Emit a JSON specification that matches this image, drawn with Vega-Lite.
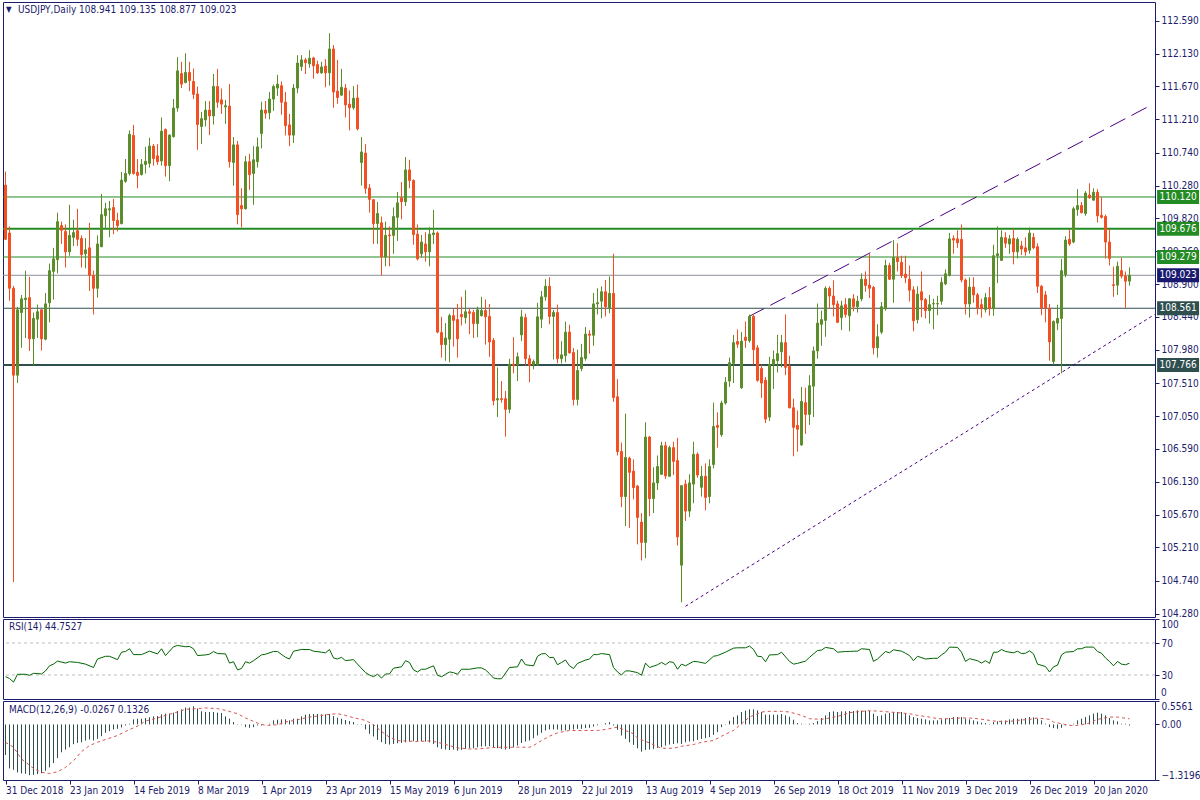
{
"$schema": "https://vega.github.io/schema/vega-lite/v6.json",
"background": "white",
"padding": {"left": 1, "top": 1, "right": 0, "bottom": 0},
"spacing": 2,
"bounds": "flush",
"config": {
 "view": {"stroke": "#1c1c6c", "strokeWidth": 1},
 "font": "DejaVu Sans Condensed, DejaVu Sans",
 "scale": {"continuousPadding": 0},
 "axis": {"labelFont": "DejaVu Sans Condensed, DejaVu Sans", "labelFontSize": 10, "labelColor": "#1c1c6c", "domainColor": "#1c1c6c", "tickColor": "#1c1c6c", "grid": false, "domain": false, "labelOverlap": false, "labelBound": false}
},
"datasets": {
 "bars": [
{"i":0,"o":110.285,"h":110.477,"l":109.516,"c":109.527,"m":-0.726},
{"i":1,"o":109.615,"h":109.708,"l":108.666,"c":108.841,"m":-1.045},
{"i":2,"o":108.841,"h":108.874,"l":104.725,"c":107.623,"m":-1.077},
{"i":3,"o":107.623,"h":108.583,"l":107.513,"c":108.539,"m":-1.14},
{"i":4,"o":108.501,"h":108.748,"l":108.007,"c":108.693,"m":-1.164},
{"i":5,"o":108.682,"h":109.088,"l":108.144,"c":108.704,"m":-1.172},
{"i":6,"o":108.71,"h":109.0,"l":107.963,"c":108.133,"m":-1.204},
{"i":7,"o":108.133,"h":108.501,"l":107.76,"c":108.419,"m":-1.196},
{"i":8,"o":108.408,"h":108.611,"l":108.144,"c":108.512,"m":-1.18},
{"i":9,"o":108.539,"h":108.55,"l":107.969,"c":108.133,"m":-1.156},
{"i":10,"o":108.128,"h":108.775,"l":108.111,"c":108.622,"m":-1.1},
{"i":11,"o":108.638,"h":109.187,"l":108.364,"c":109.088,"m":-1.021},
{"i":12,"o":109.077,"h":109.407,"l":108.682,"c":109.253,"m":-0.917},
{"i":13,"o":109.242,"h":109.9,"l":109.05,"c":109.774,"m":-0.797},
{"i":14,"o":109.719,"h":109.774,"l":109.462,"c":109.654,"m":-0.662},
{"i":15,"o":109.637,"h":109.736,"l":109.132,"c":109.352,"m":-0.598},
{"i":16,"o":109.352,"h":110.01,"l":109.297,"c":109.582,"m":-0.542},
{"i":17,"o":109.555,"h":109.802,"l":109.434,"c":109.621,"m":-0.47},
{"i":18,"o":109.648,"h":109.955,"l":109.434,"c":109.527,"m":-0.439},
{"i":19,"o":109.538,"h":109.582,"l":109.132,"c":109.313,"m":-0.423},
{"i":20,"o":109.324,"h":109.544,"l":109.121,"c":109.379,"m":-0.383},
{"i":21,"o":109.407,"h":109.758,"l":108.803,"c":109.022,"m":-0.359},
{"i":22,"o":109.022,"h":109.088,"l":108.474,"c":108.841,"m":-0.383},
{"i":23,"o":108.841,"h":109.582,"l":108.71,"c":109.462,"m":-0.343},
{"i":24,"o":109.423,"h":110.164,"l":109.418,"c":109.873,"m":-0.279},
{"i":25,"o":109.857,"h":110.038,"l":109.681,"c":109.955,"m":-0.199},
{"i":26,"o":109.939,"h":110.065,"l":109.555,"c":109.955,"m":-0.159},
{"i":27,"o":109.972,"h":110.093,"l":109.599,"c":109.791,"m":-0.12},
{"i":28,"o":109.791,"h":109.9,"l":109.637,"c":109.719,"m":-0.104},
{"i":29,"o":109.747,"h":110.471,"l":109.736,"c":110.356,"m":-0.072},
{"i":30,"o":110.34,"h":110.652,"l":110.318,"c":110.449,"m":-0.024},
{"i":31,"o":110.449,"h":111.053,"l":110.422,"c":110.998,"m":0.016},
{"i":32,"o":110.982,"h":111.13,"l":110.433,"c":110.449,"m":0.12},
{"i":33,"o":110.466,"h":110.652,"l":110.241,"c":110.422,"m":0.136},
{"i":34,"o":110.433,"h":110.652,"l":110.422,"c":110.576,"m":0.136},
{"i":35,"o":110.576,"h":110.822,"l":110.449,"c":110.619,"m":0.152},
{"i":36,"o":110.592,"h":110.949,"l":110.532,"c":110.833,"m":0.167},
{"i":37,"o":110.833,"h":110.861,"l":110.559,"c":110.658,"m":0.191},
{"i":38,"o":110.696,"h":110.861,"l":110.57,"c":110.614,"m":0.199},
{"i":39,"o":110.625,"h":111.234,"l":110.559,"c":111.042,"m":0.239},
{"i":40,"o":111.064,"h":111.08,"l":110.405,"c":110.559,"m":0.255},
{"i":41,"o":110.559,"h":110.998,"l":110.34,"c":110.987,"m":0.255},
{"i":42,"o":110.965,"h":111.492,"l":110.954,"c":111.366,"m":0.279},
{"i":43,"o":111.366,"h":112.079,"l":111.316,"c":111.887,"m":0.319},
{"i":44,"o":111.849,"h":112.013,"l":111.646,"c":111.701,"m":0.359},
{"i":45,"o":111.723,"h":112.134,"l":111.712,"c":111.865,"m":0.399},
{"i":46,"o":111.865,"h":112.013,"l":111.602,"c":111.75,"m":0.399},
{"i":47,"o":111.739,"h":111.92,"l":111.492,"c":111.558,"m":0.431},
{"i":48,"o":111.563,"h":111.668,"l":110.779,"c":111.135,"m":0.375},
{"i":49,"o":111.108,"h":111.311,"l":110.861,"c":111.218,"m":0.311},
{"i":50,"o":111.201,"h":111.465,"l":111.108,"c":111.338,"m":0.295},
{"i":51,"o":111.338,"h":111.465,"l":110.987,"c":111.256,"m":0.295},
{"i":52,"o":111.256,"h":111.843,"l":111.135,"c":111.668,"m":0.295},
{"i":53,"o":111.668,"h":111.915,"l":111.371,"c":111.448,"m":0.279},
{"i":54,"o":111.481,"h":111.64,"l":111.283,"c":111.421,"m":0.271},
{"i":55,"o":111.382,"h":111.481,"l":111.146,"c":111.399,"m":0.191},
{"i":56,"o":111.393,"h":111.701,"l":110.532,"c":110.614,"m":0.136},
{"i":57,"o":110.603,"h":110.96,"l":110.279,"c":110.85,"m":0.056},
{"i":58,"o":110.85,"h":110.905,"l":109.736,"c":109.873,"m":0.008},
{"i":59,"o":110.0,"h":110.241,"l":109.692,"c":109.955,"m":-0.008},
{"i":60,"o":109.955,"h":110.696,"l":109.944,"c":110.614,"m":-0.064},
{"i":61,"o":110.614,"h":110.724,"l":110.219,"c":110.433,"m":-0.08},
{"i":62,"o":110.449,"h":110.833,"l":110.01,"c":110.641,"m":-0.064},
{"i":63,"o":110.614,"h":110.954,"l":110.532,"c":110.822,"m":-0.024},
{"i":64,"o":111.009,"h":111.454,"l":110.801,"c":111.338,"m":-0.024},
{"i":65,"o":111.338,"h":111.465,"l":111.218,"c":111.294,"m":0.004},
{"i":66,"o":111.3,"h":111.591,"l":111.207,"c":111.492,"m":0.016},
{"i":67,"o":111.492,"h":111.695,"l":111.327,"c":111.668,"m":0.096},
{"i":68,"o":111.646,"h":111.832,"l":111.536,"c":111.701,"m":0.112},
{"i":69,"o":111.679,"h":111.739,"l":111.272,"c":111.448,"m":0.12},
{"i":70,"o":111.448,"h":111.591,"l":110.982,"c":111.119,"m":0.12},
{"i":71,"o":111.13,"h":111.283,"l":110.833,"c":110.987,"m":0.096},
{"i":72,"o":110.987,"h":111.701,"l":110.877,"c":111.646,"m":0.136},
{"i":73,"o":111.646,"h":112.107,"l":111.574,"c":111.997,"m":0.136},
{"i":74,"o":111.948,"h":112.107,"l":111.887,"c":112.041,"m":0.191},
{"i":75,"o":112.041,"h":112.068,"l":111.843,"c":112.002,"m":0.231},
{"i":76,"o":111.986,"h":112.178,"l":111.931,"c":112.063,"m":0.247},
{"i":77,"o":112.068,"h":112.085,"l":111.777,"c":111.958,"m":0.247},
{"i":78,"o":111.975,"h":112.03,"l":111.843,"c":111.86,"m":0.247},
{"i":79,"o":111.86,"h":112.013,"l":111.843,"c":111.942,"m":0.239},
{"i":80,"o":111.953,"h":112.052,"l":111.657,"c":111.86,"m":0.239},
{"i":81,"o":111.86,"h":112.414,"l":111.679,"c":112.194,"m":0.247},
{"i":82,"o":112.194,"h":112.249,"l":111.371,"c":111.591,"m":0.199},
{"i":83,"o":111.602,"h":112.041,"l":111.426,"c":111.514,"m":0.159},
{"i":84,"o":111.547,"h":111.915,"l":111.536,"c":111.657,"m":0.136},
{"i":85,"o":111.646,"h":111.701,"l":111.234,"c":111.41,"m":0.104},
{"i":86,"o":111.421,"h":111.613,"l":111.053,"c":111.371,"m":0.08},
{"i":87,"o":111.371,"h":111.673,"l":111.344,"c":111.503,"m":0.056},
{"i":88,"o":111.508,"h":111.695,"l":111.053,"c":111.075,"m":0.008},
{"i":89,"o":110.603,"h":110.96,"l":110.279,"c":110.751,"m":-0.01},
{"i":90,"o":110.735,"h":110.861,"l":110.164,"c":110.241,"m":-0.12},
{"i":91,"o":110.246,"h":110.301,"l":109.9,"c":110.087,"m":-0.223},
{"i":92,"o":110.082,"h":110.093,"l":109.462,"c":109.747,"m":-0.287},
{"i":93,"o":109.747,"h":110.049,"l":109.462,"c":109.889,"m":-0.367},
{"i":94,"o":109.758,"h":109.846,"l":109.022,"c":109.28,"m":-0.423},
{"i":95,"o":109.28,"h":109.774,"l":109.149,"c":109.582,"m":-0.463},
{"i":96,"o":109.588,"h":109.708,"l":109.149,"c":109.577,"m":-0.478},
{"i":97,"o":109.582,"h":109.972,"l":109.324,"c":109.846,"m":-0.463},
{"i":98,"o":109.835,"h":110.191,"l":109.505,"c":110.038,"m":-0.447},
{"i":99,"o":110.109,"h":110.329,"l":109.807,"c":110.054,"m":-0.439},
{"i":100,"o":110.054,"h":110.68,"l":109.994,"c":110.499,"m":-0.423},
{"i":101,"o":110.499,"h":110.641,"l":110.241,"c":110.351,"m":-0.407},
{"i":102,"o":110.351,"h":110.367,"l":109.451,"c":109.593,"m":-0.399},
{"i":103,"o":109.599,"h":109.736,"l":109.231,"c":109.253,"m":-0.399},
{"i":104,"o":109.324,"h":109.588,"l":109.269,"c":109.489,"m":-0.399},
{"i":105,"o":109.462,"h":109.626,"l":109.214,"c":109.352,"m":-0.407},
{"i":106,"o":109.352,"h":109.697,"l":109.149,"c":109.599,"m":-0.423},
{"i":107,"o":109.593,"h":109.939,"l":109.462,"c":109.615,"m":-0.463},
{"i":108,"o":109.615,"h":109.637,"l":108.21,"c":108.227,"m":-0.542},
{"i":109,"o":108.221,"h":108.441,"l":107.87,"c":108.051,"m":-0.582},
{"i":110,"o":108.051,"h":108.353,"l":107.826,"c":108.144,"m":-0.598},
{"i":111,"o":108.128,"h":108.485,"l":107.804,"c":108.457,"m":-0.606},
{"i":112,"o":108.457,"h":108.556,"l":108.024,"c":108.391,"m":-0.598},
{"i":113,"o":108.402,"h":108.622,"l":107.87,"c":108.133,"m":-0.622},
{"i":114,"o":108.474,"h":108.721,"l":108.32,"c":108.441,"m":-0.606},
{"i":115,"o":108.43,"h":108.814,"l":108.347,"c":108.512,"m":-0.582},
{"i":116,"o":108.512,"h":108.556,"l":108.199,"c":108.49,"m":-0.566},
{"i":117,"o":108.501,"h":108.539,"l":108.144,"c":108.347,"m":-0.566},
{"i":118,"o":108.347,"h":108.583,"l":108.155,"c":108.539,"m":-0.542},
{"i":119,"o":108.457,"h":108.721,"l":108.446,"c":108.528,"m":-0.526},
{"i":120,"o":108.528,"h":108.682,"l":108.051,"c":108.441,"m":-0.518},
{"i":121,"o":108.446,"h":108.622,"l":107.881,"c":108.089,"m":-0.518},
{"i":122,"o":108.111,"h":108.144,"l":107.2,"c":107.266,"m":-0.542},
{"i":123,"o":107.277,"h":107.733,"l":107.036,"c":107.294,"m":-0.566},
{"i":124,"o":107.294,"h":107.541,"l":107.239,"c":107.283,"m":-0.582},
{"i":125,"o":107.294,"h":107.403,"l":106.761,"c":107.145,"m":-0.598},
{"i":126,"o":107.145,"h":107.854,"l":107.091,"c":107.777,"m":-0.582},
{"i":127,"o":107.777,"h":108.155,"l":107.65,"c":107.76,"m":-0.542},
{"i":128,"o":107.771,"h":107.941,"l":107.541,"c":107.881,"m":-0.502},
{"i":129,"o":108.188,"h":108.539,"l":108.1,"c":108.441,"m":-0.439},
{"i":130,"o":108.43,"h":108.485,"l":107.76,"c":107.854,"m":-0.407},
{"i":131,"o":107.854,"h":107.908,"l":107.524,"c":107.76,"m":-0.383},
{"i":132,"o":107.771,"h":107.843,"l":107.705,"c":107.815,"m":-0.327},
{"i":133,"o":107.771,"h":108.638,"l":107.76,"c":108.441,"m":-0.263},
{"i":134,"o":108.408,"h":108.803,"l":108.282,"c":108.721,"m":-0.199},
{"i":135,"o":108.721,"h":108.968,"l":108.666,"c":108.869,"m":-0.144},
{"i":136,"o":108.869,"h":108.995,"l":108.336,"c":108.446,"m":-0.12},
{"i":137,"o":108.446,"h":108.539,"l":107.843,"c":108.501,"m":-0.12},
{"i":138,"o":108.501,"h":108.611,"l":107.788,"c":107.854,"m":-0.12},
{"i":139,"o":107.854,"h":108.1,"l":107.788,"c":107.908,"m":-0.144},
{"i":140,"o":107.897,"h":108.375,"l":107.804,"c":108.227,"m":-0.144},
{"i":141,"o":108.227,"h":108.331,"l":107.925,"c":107.936,"m":-0.128},
{"i":142,"o":107.941,"h":108.002,"l":107.2,"c":107.283,"m":-0.12},
{"i":143,"o":107.283,"h":107.98,"l":107.2,"c":107.689,"m":-0.104},
{"i":144,"o":107.716,"h":108.062,"l":107.678,"c":107.87,"m":-0.104},
{"i":145,"o":107.859,"h":108.298,"l":107.826,"c":108.199,"m":-0.088},
{"i":146,"o":108.199,"h":108.254,"l":107.925,"c":108.183,"m":-0.08},
{"i":147,"o":108.183,"h":108.775,"l":108.035,"c":108.622,"m":-0.05},
{"i":148,"o":108.622,"h":108.841,"l":108.474,"c":108.638,"m":-0.02},
{"i":149,"o":108.66,"h":108.869,"l":108.419,"c":108.792,"m":0.004},
{"i":150,"o":108.792,"h":108.957,"l":108.446,"c":108.583,"m":0.03},
{"i":151,"o":108.567,"h":109.006,"l":108.49,"c":108.77,"m":0.056},
{"i":152,"o":108.77,"h":109.324,"l":107.25,"c":107.31,"m":-0.024},
{"i":153,"o":107.321,"h":107.568,"l":106.498,"c":106.553,"m":-0.128},
{"i":154,"o":106.553,"h":106.679,"l":105.773,"c":105.922,"m":-0.263},
{"i":155,"o":105.922,"h":107.085,"l":105.51,"c":106.471,"m":-0.343},
{"i":156,"o":106.46,"h":106.482,"l":105.483,"c":106.262,"m":-0.423},
{"i":157,"o":106.278,"h":106.443,"l":105.883,"c":106.048,"m":-0.486},
{"i":158,"o":106.07,"h":106.086,"l":105.252,"c":105.631,"m":-0.566},
{"i":159,"o":105.565,"h":105.691,"l":105.027,"c":105.28,"m":-0.646},
{"i":160,"o":105.28,"h":106.964,"l":105.06,"c":106.756,"m":-0.606},
{"i":161,"o":106.756,"h":106.772,"l":105.647,"c":105.894,"m":-0.598},
{"i":162,"o":105.894,"h":106.333,"l":105.691,"c":106.114,"m":-0.582},
{"i":163,"o":106.114,"h":106.498,"l":106.015,"c":106.344,"m":-0.558},
{"i":164,"o":106.235,"h":106.69,"l":106.224,"c":106.635,"m":-0.542},
{"i":165,"o":106.635,"h":106.69,"l":106.169,"c":106.213,"m":-0.502},
{"i":166,"o":106.207,"h":106.635,"l":106.196,"c":106.608,"m":-0.478},
{"i":167,"o":106.608,"h":106.69,"l":106.224,"c":106.416,"m":-0.463},
{"i":168,"o":106.427,"h":106.745,"l":105.236,"c":105.357,"m":-0.447},
{"i":169,"o":104.961,"h":106.075,"l":104.44,"c":106.075,"m":-0.463},
{"i":170,"o":106.097,"h":106.158,"l":105.581,"c":105.719,"m":-0.423},
{"i":171,"o":105.719,"h":106.235,"l":105.636,"c":106.114,"m":-0.407},
{"i":172,"o":106.097,"h":106.69,"l":105.828,"c":106.514,"m":-0.399},
{"i":173,"o":106.514,"h":106.542,"l":106.185,"c":106.224,"m":-0.367},
{"i":174,"o":106.053,"h":106.35,"l":105.922,"c":106.207,"m":-0.343},
{"i":175,"o":106.207,"h":106.388,"l":105.73,"c":105.911,"m":-0.327},
{"i":176,"o":105.922,"h":106.443,"l":105.828,"c":106.344,"m":-0.303},
{"i":177,"o":106.372,"h":107.239,"l":106.317,"c":106.904,"m":-0.247},
{"i":178,"o":106.92,"h":107.102,"l":106.608,"c":106.893,"m":-0.183},
{"i":179,"o":106.789,"h":107.266,"l":106.761,"c":107.233,"m":-0.064},
{"i":180,"o":107.233,"h":107.596,"l":107.211,"c":107.524,"m":-0.008},
{"i":181,"o":107.541,"h":107.87,"l":107.458,"c":107.798,"m":0.088},
{"i":182,"o":107.788,"h":108.188,"l":107.513,"c":108.079,"m":0.175},
{"i":183,"o":108.095,"h":108.265,"l":108.007,"c":108.057,"m":0.215},
{"i":184,"o":107.447,"h":108.227,"l":107.431,"c":108.1,"m":0.295},
{"i":185,"o":108.155,"h":108.375,"l":108.007,"c":108.111,"m":0.327},
{"i":186,"o":108.106,"h":108.474,"l":108.079,"c":108.446,"m":0.359},
{"i":187,"o":108.446,"h":108.474,"l":107.771,"c":107.98,"m":0.359},
{"i":188,"o":108.007,"h":108.046,"l":107.53,"c":107.552,"m":0.335},
{"i":189,"o":107.716,"h":107.771,"l":107.305,"c":107.513,"m":0.295},
{"i":190,"o":107.552,"h":107.596,"l":106.953,"c":107.008,"m":0.231},
{"i":191,"o":107.036,"h":107.881,"l":106.981,"c":107.771,"m":0.231},
{"i":192,"o":107.771,"h":107.969,"l":107.431,"c":107.843,"m":0.231},
{"i":193,"o":107.826,"h":108.188,"l":107.661,"c":107.925,"m":0.231},
{"i":194,"o":107.952,"h":108.188,"l":107.733,"c":108.079,"m":0.247},
{"i":195,"o":108.079,"h":108.474,"l":107.623,"c":107.733,"m":0.215},
{"i":196,"o":107.744,"h":107.897,"l":107.157,"c":107.167,"m":0.183},
{"i":197,"o":107.167,"h":107.294,"l":106.487,"c":106.893,"m":0.112},
{"i":198,"o":106.92,"h":107.129,"l":106.553,"c":106.866,"m":0.032},
{"i":199,"o":106.646,"h":107.458,"l":106.635,"c":107.255,"m":0.016},
{"i":200,"o":107.239,"h":107.447,"l":106.8,"c":107.074,"m":0.005},
{"i":201,"o":107.074,"h":107.623,"l":106.926,"c":107.475,"m":0.016},
{"i":202,"o":107.469,"h":108.024,"l":107.036,"c":107.963,"m":0.032},
{"i":203,"o":107.963,"h":108.627,"l":107.854,"c":108.353,"m":0.08},
{"i":204,"o":108.336,"h":108.528,"l":108.035,"c":108.402,"m":0.152},
{"i":205,"o":108.391,"h":108.869,"l":108.161,"c":108.841,"m":0.215},
{"i":206,"o":108.841,"h":108.869,"l":108.567,"c":108.732,"m":0.295},
{"i":207,"o":108.732,"h":108.951,"l":108.446,"c":108.611,"m":0.311},
{"i":208,"o":108.622,"h":108.666,"l":108.353,"c":108.364,"m":0.295},
{"i":209,"o":108.43,"h":108.666,"l":108.254,"c":108.594,"m":0.311},
{"i":210,"o":108.611,"h":108.704,"l":108.43,"c":108.474,"m":0.311},
{"i":211,"o":108.457,"h":108.704,"l":108.238,"c":108.693,"m":0.319},
{"i":212,"o":108.693,"h":108.759,"l":108.517,"c":108.583,"m":0.319},
{"i":213,"o":108.583,"h":108.737,"l":108.501,"c":108.66,"m":0.335},
{"i":214,"o":108.693,"h":109.05,"l":108.66,"c":108.968,"m":0.327},
{"i":215,"o":108.968,"h":109.077,"l":108.792,"c":108.88,"m":0.327},
{"i":216,"o":108.885,"h":109.324,"l":108.704,"c":108.841,"m":0.319},
{"i":217,"o":108.852,"h":108.874,"l":107.914,"c":108.007,"m":0.255},
{"i":218,"o":108.007,"h":108.336,"l":107.87,"c":108.161,"m":0.199},
{"i":219,"o":108.227,"h":108.649,"l":108.199,"c":108.583,"m":0.215},
{"i":220,"o":108.556,"h":109.242,"l":108.528,"c":109.16,"m":0.255},
{"i":221,"o":109.16,"h":109.198,"l":108.957,"c":108.968,"m":0.275},
{"i":222,"o":108.968,"h":109.516,"l":108.638,"c":109.269,"m":0.295},
{"i":223,"o":109.269,"h":109.472,"l":109.077,"c":109.214,"m":0.295},
{"i":224,"o":109.204,"h":109.297,"l":108.984,"c":109.022,"m":0.295},
{"i":225,"o":109.039,"h":109.297,"l":108.913,"c":108.989,"m":0.255},
{"i":226,"o":108.968,"h":109.16,"l":108.655,"c":108.814,"m":0.215},
{"i":227,"o":108.819,"h":108.869,"l":108.238,"c":108.386,"m":0.175},
{"i":228,"o":108.402,"h":108.869,"l":108.347,"c":108.759,"m":0.152},
{"i":229,"o":108.792,"h":109.077,"l":108.435,"c":108.677,"m":0.136},
{"i":230,"o":108.682,"h":108.704,"l":108.419,"c":108.528,"m":0.12},
{"i":231,"o":108.528,"h":108.748,"l":108.347,"c":108.611,"m":0.096},
{"i":232,"o":108.622,"h":108.693,"l":108.265,"c":108.627,"m":0.096},
{"i":233,"o":108.622,"h":108.737,"l":108.463,"c":108.627,"m":0.096},
{"i":234,"o":108.66,"h":108.995,"l":108.611,"c":108.924,"m":0.12},
{"i":235,"o":108.902,"h":109.105,"l":108.885,"c":109.044,"m":0.136},
{"i":236,"o":109.022,"h":109.615,"l":109.006,"c":109.533,"m":0.152},
{"i":237,"o":109.538,"h":109.582,"l":109.324,"c":109.516,"m":0.175},
{"i":238,"o":109.533,"h":109.654,"l":109.407,"c":109.478,"m":0.175},
{"i":239,"o":109.527,"h":109.736,"l":108.924,"c":108.957,"m":0.175},
{"i":240,"o":108.957,"h":108.979,"l":108.474,"c":108.622,"m":0.136},
{"i":241,"o":108.622,"h":108.995,"l":108.43,"c":108.858,"m":0.12},
{"i":242,"o":108.858,"h":108.995,"l":108.638,"c":108.748,"m":0.096},
{"i":243,"o":108.748,"h":108.775,"l":108.474,"c":108.567,"m":0.072},
{"i":244,"o":108.611,"h":108.693,"l":108.43,"c":108.556,"m":0.04},
{"i":245,"o":108.545,"h":108.775,"l":108.501,"c":108.71,"m":0.032},
{"i":246,"o":108.71,"h":108.858,"l":108.457,"c":108.556,"m":0.008},
{"i":247,"o":108.556,"h":109.451,"l":108.457,"c":109.297,"m":0.056},
{"i":248,"o":109.297,"h":109.708,"l":108.913,"c":109.324,"m":0.072},
{"i":249,"o":109.231,"h":109.654,"l":109.226,"c":109.555,"m":0.088},
{"i":250,"o":109.549,"h":109.626,"l":109.407,"c":109.472,"m":0.096},
{"i":251,"o":109.462,"h":109.588,"l":109.324,"c":109.533,"m":0.12},
{"i":252,"o":109.538,"h":109.681,"l":109.176,"c":109.352,"m":0.136},
{"i":253,"o":109.352,"h":109.555,"l":109.258,"c":109.527,"m":0.136},
{"i":254,"o":109.434,"h":109.505,"l":109.308,"c":109.39,"m":0.136},
{"i":255,"o":109.407,"h":109.555,"l":109.297,"c":109.352,"m":0.152},
{"i":256,"o":109.374,"h":109.692,"l":109.324,"c":109.615,"m":0.175},
{"i":257,"o":109.555,"h":109.615,"l":109.39,"c":109.407,"m":0.167},
{"i":258,"o":109.423,"h":109.472,"l":108.775,"c":108.869,"m":0.136},
{"i":259,"o":108.869,"h":108.885,"l":108.463,"c":108.567,"m":0.096},
{"i":260,"o":108.748,"h":108.803,"l":108.364,"c":108.567,"m":0.016},
{"i":261,"o":108.556,"h":108.622,"l":107.826,"c":108.089,"m":-0.064},
{"i":262,"o":107.815,"h":108.391,"l":107.771,"c":108.375,"m":-0.088},
{"i":263,"o":108.353,"h":108.611,"l":108.254,"c":108.419,"m":-0.104},
{"i":264,"o":108.419,"h":109.253,"l":107.65,"c":109.088,"m":-0.08},
{"i":265,"o":109.033,"h":109.571,"l":108.995,"c":109.516,"m":-0.024},
{"i":266,"o":109.527,"h":109.67,"l":109.434,"c":109.462,"m":0.003},
{"i":267,"o":109.489,"h":109.983,"l":109.472,"c":109.955,"m":0.016},
{"i":268,"o":109.944,"h":110.23,"l":109.857,"c":110.0,"m":0.096},
{"i":269,"o":110.0,"h":110.049,"l":109.889,"c":109.9,"m":0.136},
{"i":270,"o":109.889,"h":110.202,"l":109.857,"c":110.175,"m":0.175},
{"i":271,"o":110.147,"h":110.312,"l":110.093,"c":110.109,"m":0.215},
{"i":272,"o":110.076,"h":110.241,"l":110.065,"c":110.186,"m":0.255},
{"i":273,"o":110.186,"h":110.23,"l":109.763,"c":109.857,"m":0.279},
{"i":274,"o":109.862,"h":110.12,"l":109.818,"c":109.835,"m":0.255},
{"i":275,"o":109.846,"h":109.873,"l":109.258,"c":109.489,"m":0.215},
{"i":276,"o":109.489,"h":109.67,"l":109.16,"c":109.258,"m":0.152},
{"i":277,"o":108.891,"h":109.143,"l":108.721,"c":108.88,"m":0.096},
{"i":278,"o":108.885,"h":109.215,"l":108.748,"c":109.149,"m":0.072},
{"i":279,"o":109.088,"h":109.269,"l":108.979,"c":109.011,"m":0.016},
{"i":280,"o":109.011,"h":109.077,"l":108.567,"c":108.94,"m":0.016},
{"i":281,"o":108.941,"h":109.135,"l":108.877,"c":109.023,"m":-0.0267}
 ],
 "rsi": [
{"i":0,"v":27.9},{"i":1,"v":25.7},{"i":2,"v":21.1},{"i":3,"v":30.9},{"i":5,"v":30.9},{"i":6,"v":29.6},{"i":7,"v":32.1},{"i":9,"v":31.3},{"i":10,"v":35.1},{"i":11,"v":41.5},{"i":12,"v":43.6},{"i":13,"v":47.4},{"i":15,"v":44.9},{"i":16,"v":46.6},{"i":18,"v":45.7},{"i":20,"v":43.6},{"i":22,"v":39.4},{"i":23,"v":50.0},{"i":25,"v":53.4},{"i":26,"v":53.4},{"i":28,"v":49.2},{"i":29,"v":58.5},{"i":30,"v":59.4},{"i":31,"v":62.8},{"i":32,"v":55.5},{"i":34,"v":55.5},{"i":36,"v":59.8},{"i":38,"v":56.4},{"i":39,"v":62.8},{"i":40,"v":54.3},{"i":42,"v":65.3},{"i":43,"v":67.0},{"i":45,"v":65.3},{"i":46,"v":65.7},{"i":47,"v":62.8},{"i":48,"v":54.3},{"i":50,"v":55.1},{"i":51,"v":56.0},{"i":52,"v":59.4},{"i":53,"v":56.8},{"i":55,"v":56.4},{"i":56,"v":44.9},{"i":57,"v":46.6},{"i":58,"v":36.4},{"i":59,"v":38.1},{"i":60,"v":46.6},{"i":61,"v":44.9},{"i":62,"v":47.9},{"i":64,"v":55.1},{"i":65,"v":56.0},{"i":67,"v":59.4},{"i":68,"v":59.4},{"i":70,"v":52.1},{"i":71,"v":50.0},{"i":72,"v":59.8},{"i":74,"v":61.9},{"i":76,"v":61.9},{"i":77,"v":59.8},{"i":79,"v":58.5},{"i":80,"v":57.7},{"i":81,"v":61.9},{"i":82,"v":51.3},{"i":83,"v":50.0},{"i":84,"v":52.1},{"i":85,"v":47.9},{"i":87,"v":49.2},{"i":88,"v":43.6},{"i":90,"v":33.0},{"i":91,"v":30.0},{"i":92,"v":27.9},{"i":93,"v":30.9},{"i":94,"v":26.2},{"i":95,"v":31.3},{"i":96,"v":31.3},{"i":97,"v":38.5},{"i":99,"v":40.2},{"i":100,"v":47.9},{"i":101,"v":45.7},{"i":102,"v":36.4},{"i":103,"v":33.8},{"i":104,"v":37.2},{"i":105,"v":37.2},{"i":107,"v":41.5},{"i":108,"v":29.6},{"i":109,"v":27.9},{"i":110,"v":30.9},{"i":111,"v":33.8},{"i":112,"v":33.0},{"i":113,"v":30.9},{"i":114,"v":37.2},{"i":116,"v":37.2},{"i":118,"v":38.9},{"i":119,"v":38.9},{"i":120,"v":36.4},{"i":121,"v":31.7},{"i":122,"v":26.2},{"i":123,"v":25.3},{"i":124,"v":25.3},{"i":126,"v":39.4},{"i":128,"v":40.2},{"i":129,"v":50.0},{"i":130,"v":42.8},{"i":132,"v":41.5},{"i":133,"v":53.4},{"i":134,"v":56.4},{"i":135,"v":56.8},{"i":136,"v":51.7},{"i":137,"v":52.1},{"i":138,"v":42.8},{"i":139,"v":45.7},{"i":140,"v":48.7},{"i":141,"v":41.5},{"i":142,"v":38.1},{"i":143,"v":44.5},{"i":145,"v":48.7},{"i":146,"v":50.0},{"i":147,"v":55.5},{"i":148,"v":55.5},{"i":149,"v":56.8},{"i":151,"v":55.5},{"i":152,"v":39.4},{"i":153,"v":33.8},{"i":154,"v":30.0},{"i":155,"v":35.1},{"i":156,"v":35.1},{"i":158,"v":33.0},{"i":159,"v":29.6},{"i":160,"v":44.9},{"i":161,"v":39.4},{"i":163,"v":42.8},{"i":164,"v":45.7},{"i":165,"v":42.8},{"i":166,"v":46.6},{"i":167,"v":45.7},{"i":168,"v":37.2},{"i":169,"v":43.6},{"i":170,"v":41.5},{"i":172,"v":47.0},{"i":173,"v":46.6},{"i":175,"v":44.5},{"i":177,"v":53.4},{"i":178,"v":54.3},{"i":180,"v":58.5},{"i":182,"v":63.6},{"i":183,"v":64.0},{"i":185,"v":64.0},{"i":186,"v":66.2},{"i":187,"v":61.9},{"i":188,"v":53.4},{"i":189,"v":53.0},{"i":190,"v":46.6},{"i":191,"v":55.1},{"i":193,"v":55.5},{"i":194,"v":58.5},{"i":196,"v":47.0},{"i":197,"v":43.6},{"i":198,"v":44.5},{"i":200,"v":47.4},{"i":201,"v":52.1},{"i":203,"v":60.6},{"i":204,"v":61.1},{"i":205,"v":64.5},{"i":207,"v":62.8},{"i":208,"v":58.5},{"i":210,"v":59.4},{"i":211,"v":59.4},{"i":212,"v":59.8},{"i":213,"v":59.8},{"i":214,"v":62.8},{"i":216,"v":61.9},{"i":217,"v":47.0},{"i":218,"v":50.0},{"i":220,"v":59.4},{"i":221,"v":57.7},{"i":222,"v":61.5},{"i":224,"v":59.8},{"i":225,"v":57.2},{"i":226,"v":54.3},{"i":227,"v":47.9},{"i":228,"v":53.4},{"i":230,"v":50.0},{"i":232,"v":50.9},{"i":233,"v":50.9},{"i":234,"v":55.1},{"i":235,"v":58.5},{"i":236,"v":64.9},{"i":238,"v":64.5},{"i":239,"v":58.5},{"i":240,"v":47.0},{"i":241,"v":50.4},{"i":243,"v":47.9},{"i":244,"v":44.9},{"i":245,"v":47.9},{"i":246,"v":44.5},{"i":247,"v":58.5},{"i":248,"v":58.5},{"i":249,"v":61.9},{"i":250,"v":59.4},{"i":252,"v":57.7},{"i":253,"v":59.8},{"i":254,"v":56.8},{"i":255,"v":57.2},{"i":256,"v":60.2},{"i":257,"v":56.4},{"i":258,"v":43.6},{"i":260,"v":40.6},{"i":261,"v":33.8},{"i":262,"v":40.2},{"i":263,"v":42.3},{"i":264,"v":55.1},{"i":265,"v":58.5},{"i":267,"v":59.4},{"i":268,"v":62.8},{"i":269,"v":62.8},{"i":270,"v":64.9},{"i":272,"v":64.9},{"i":273,"v":59.4},{"i":274,"v":57.2},{"i":275,"v":51.3},{"i":276,"v":47.0},{"i":277,"v":41.5},{"i":278,"v":47.0},{"i":279,"v":43.6},{"i":280,"v":42.8},{"i":281,"v":44.75}
 ],
 "signal": [
{"i":0,"s":-0.423},{"i":2,"s":-0.542},{"i":4,"s":-0.821},{"i":7,"s":-1.045},{"i":9,"s":-1.14},{"i":11,"s":-1.164},{"i":13,"s":-1.124},{"i":15,"s":-1.021},{"i":17,"s":-0.861},{"i":19,"s":-0.646},{"i":21,"s":-0.502},{"i":23,"s":-0.423},{"i":25,"s":-0.359},{"i":28,"s":-0.263},{"i":30,"s":-0.167},{"i":33,"s":-0.04},{"i":35,"s":0.08},{"i":38,"s":0.152},{"i":40,"s":0.215},{"i":43,"s":0.295},{"i":45,"s":0.359},{"i":48,"s":0.375},{"i":50,"s":0.391},{"i":53,"s":0.375},{"i":55,"s":0.335},{"i":58,"s":0.255},{"i":60,"s":0.152},{"i":63,"s":0.032},{"i":65,"s":-0.024},{"i":68,"s":-0.008},{"i":70,"s":0.056},{"i":73,"s":0.11},{"i":76,"s":0.175},{"i":78,"s":0.199},{"i":81,"s":0.239},{"i":83,"s":0.255},{"i":85,"s":0.215},{"i":87,"s":0.159},{"i":90,"s":0.096},{"i":92,"s":-0.008},{"i":94,"s":-0.167},{"i":96,"s":-0.303},{"i":98,"s":-0.383},{"i":101,"s":-0.399},{"i":103,"s":-0.407},{"i":106,"s":-0.391},{"i":108,"s":-0.423},{"i":111,"s":-0.502},{"i":113,"s":-0.558},{"i":116,"s":-0.582},{"i":118,"s":-0.582},{"i":121,"s":-0.558},{"i":123,"s":-0.542},{"i":126,"s":-0.542},{"i":128,"s":-0.542},{"i":131,"s":-0.542},{"i":132,"s":-0.502},{"i":134,"s":-0.383},{"i":136,"s":-0.279},{"i":138,"s":-0.199},{"i":141,"s":-0.144},{"i":143,"s":-0.144},{"i":146,"s":-0.144},{"i":148,"s":-0.144},{"i":150,"s":-0.12},{"i":153,"s":-0.064},{"i":154,"s":-0.104},{"i":157,"s":-0.223},{"i":158,"s":-0.327},{"i":161,"s":-0.439},{"i":163,"s":-0.526},{"i":164,"s":-0.566},{"i":167,"s":-0.566},{"i":169,"s":-0.518},{"i":172,"s":-0.478},{"i":174,"s":-0.423},{"i":177,"s":-0.383},{"i":179,"s":-0.279},{"i":182,"s":-0.144},{"i":184,"s":0.016},{"i":186,"s":0.175},{"i":189,"s":0.295},{"i":191,"s":0.311},{"i":194,"s":0.311},{"i":196,"s":0.295},{"i":199,"s":0.215},{"i":201,"s":0.136},{"i":204,"s":0.12},{"i":206,"s":0.152},{"i":209,"s":0.215},{"i":211,"s":0.279},{"i":214,"s":0.311},{"i":216,"s":0.327},{"i":219,"s":0.311},{"i":221,"s":0.295},{"i":223,"s":0.279},{"i":226,"s":0.255},{"i":228,"s":0.215},{"i":231,"s":0.175},{"i":233,"s":0.136},{"i":236,"s":0.136},{"i":238,"s":0.152},{"i":241,"s":0.152},{"i":243,"s":0.136},{"i":246,"s":0.096},{"i":248,"s":0.072},{"i":251,"s":0.072},{"i":253,"s":0.096},{"i":256,"s":0.12},{"i":258,"s":0.152},{"i":261,"s":0.12},{"i":262,"s":0.056},{"i":264,"s":0.016},{"i":266,"s":-0.024},{"i":268,"s":-0.024},{"i":271,"s":0.032},{"i":273,"s":0.12},{"i":276,"s":0.175},{"i":278,"s":0.175},{"i":281,"s":0.1326}
 ],
 "levels": [
{"price":110.12,"label":"110.120","kind":"resistance"},
{"price":109.676,"label":"109.676","kind":"resistance"},
{"price":109.279,"label":"109.279","kind":"resistance"},
{"price":109.023,"label":"109.023","kind":"bid"},
{"price":108.561,"label":"108.561","kind":"support"},
{"price":107.766,"label":"107.766","kind":"support"}
 ],
 "trend": [
{"line":"upper","i":185.9,"p":108.446},{"line":"upper","i":286.5,"p":111.41},
{"line":"lower","i":170,"p":104.385},{"line":"lower","i":287.3,"p":108.474}
 ]
},
"vconcat": [
 {
  "width": 1152, "height": 615,
  "layer": [
   {
    "data": {"name": "levels"},
    "mark": {"type": "rule"},
    "encoding": {
     "y": {"field": "price", "type": "quantitative", "title": null,
       "scale": {"domain": [104.235, 112.852], "nice": false, "zero": false, "padding": 0},
       "axis": {"orient": "right", "values": [112.59,112.13,111.67,111.21,110.74,110.28,109.82,109.36,108.9,108.44,107.98,107.51,107.05,106.59,106.13,105.67,105.21,104.74,104.28], "tickCount": 40, "format": ".3f", "tickSize": 4, "labelPadding": 2, "labelOverlap": false, "labelFlush": false, "labelBound": false}},
     "stroke": {"condition": [{"test": "datum.kind == 'resistance'", "value": "#238b23"}, {"test": "datum.kind == 'bid'", "value": "#8a9098"}], "value": "#2f4f4f"},
     "strokeWidth": {"condition": {"test": "datum.price == 109.676 || datum.price == 107.766", "value": 2}, "value": 1}
    }
   },
   {
    "data": {"name": "trend"},
    "mark": {"type": "line", "color": "#4b0082", "strokeWidth": 1},
    "encoding": {
     "x": {"field": "i", "type": "quantitative", "title": null, "axis": null, "scale": {"domain": [-0.625, 287.375], "nice": false, "zero": false, "padding": 0}},
     "y": {"field": "p", "type": "quantitative", "title": null},
     "detail": {"field": "line"},
     "strokeDash": {"field": "line", "type": "nominal", "scale": {"domain": ["upper", "lower"], "range": [[17, 7], [3, 3]]}, "legend": null}
    }
   },
   {
    "data": {"name": "bars"},
    "mark": {"type": "rule", "strokeWidth": 1},
    "encoding": {
     "x": {"field": "i", "type": "quantitative", "title": null, "axis": null},
     "y": {"field": "l", "type": "quantitative", "title": null},
     "y2": {"field": "h"},
     "color": {"condition": {"test": "datum.c >= datum.o", "value": "#5b8e2a"}, "value": "#f24f22"}
    }
   },
   {
    "data": {"name": "bars"},
    "mark": {"type": "bar", "size": 2, "strokeWidth": 1},
    "encoding": {
     "x": {"field": "i", "type": "quantitative", "title": null, "axis": null},
     "y": {"field": "o", "type": "quantitative", "title": null},
     "y2": {"field": "c"},
     "color": {"condition": {"test": "datum.c >= datum.o", "value": "#5b8e2a"}, "value": "#f24f22"},
     "stroke": {"condition": {"test": "datum.c >= datum.o", "value": "#5b8e2a"}, "value": "#f24f22"}
    }
   },
   {
    "data": {"name": "levels"},
    "mark": {"type": "bar", "orient": "horizontal", "size": 14},
    "encoding": {
     "x": {"datum": 287.9, "type": "quantitative", "title": null, "axis": null},
     "x2": {"datum": 298.4},
     "y": {"field": "price", "type": "quantitative", "title": null},
     "fill": {"condition": [{"test": "datum.kind == 'resistance'", "value": "#238b23"}, {"test": "datum.kind == 'bid'", "value": "#191970"}], "value": "#2f4f4f"}
    }
   },
   {
    "data": {"name": "levels"},
    "mark": {"type": "text", "align": "center", "baseline": "middle", "color": "white", "fontSize": 10, "font": "DejaVu Sans Condensed, DejaVu Sans"},
    "encoding": {
     "x": {"datum": 293.15, "type": "quantitative", "title": null, "axis": null},
     "y": {"field": "price", "type": "quantitative", "title": null},
     "text": {"field": "label"}
    }
   },
   {
    "data": {"values": [{"t": "▼"}]},
    "mark": {"type": "text", "align": "left", "baseline": "middle", "dx": 3, "dy": 8, "fontSize": 8, "color": "#1c1c6c"},
    "encoding": {
     "x": {"datum": -0.625, "type": "quantitative", "title": null, "axis": null},
     "y": {"datum": 112.852, "type": "quantitative", "title": null},
     "text": {"field": "t"}
    }
   },
   {
    "data": {"values": [{"t": "USDJPY,Daily  108.941 109.135 108.877 109.023"}]},
    "mark": {"type": "text", "align": "left", "baseline": "middle", "dx": 15, "dy": 8, "fontSize": 10, "color": "#1c1c6c", "font": "DejaVu Sans Condensed, DejaVu Sans"},
    "encoding": {
     "x": {"datum": -0.625, "type": "quantitative", "title": null, "axis": null},
     "y": {"datum": 112.852, "type": "quantitative", "title": null},
     "text": {"field": "t"}
    }
   }
  ]
 },
 {
  "width": 1152, "height": 80,
  "layer": [
   {
    "data": {"values": [{"lvl": 70}, {"lvl": 30}]},
    "mark": {"type": "rule", "strokeDash": [3, 3], "color": "#bdbdbd", "strokeWidth": 1},
    "encoding": {
     "y": {"field": "lvl", "type": "quantitative", "title": null,
       "scale": {"domain": [0, 100], "nice": false, "zero": false, "padding": 0},
       "axis": {"orient": "right", "values": [0, 30, 70, 100], "tickCount": 4, "labelFlush": false, "labelOverlap": false, "labelBound": false, "tickSize": 4, "labelPadding": 2,
         "labelExpr": "datum.value == 0 ? '' : datum.label",
         "labelBaseline": {"condition": {"test": "datum.value == 100", "value": "top"}, "value": "middle"}}}
    }
   },
   {
    "data": {"name": "rsi"},
    "mark": {"type": "line", "color": "#006400", "strokeWidth": 1},
    "encoding": {
     "x": {"field": "i", "type": "quantitative", "title": null, "axis": null, "scale": {"domain": [-0.625, 287.375], "nice": false, "zero": false, "padding": 0}},
     "y": {"field": "v", "type": "quantitative", "title": null}
    }
   },
   {
    "data": {"values": [{"t": "RSI(14) 44.7527"}]},
    "mark": {"type": "text", "align": "left", "baseline": "middle", "dx": 6, "dy": 8, "fontSize": 10, "color": "#1c1c6c", "font": "DejaVu Sans Condensed, DejaVu Sans"},
    "encoding": {
     "x": {"datum": -0.625, "type": "quantitative", "title": null, "axis": null},
     "y": {"datum": 100, "type": "quantitative", "title": null},
     "text": {"field": "t"}
    }
   },
   {
    "data": {"values": [{"t": "0"}]},
    "mark": {"type": "text", "align": "left", "baseline": "alphabetic", "dy": -3, "fontSize": 10, "color": "#1c1c6c", "font": "DejaVu Sans Condensed, DejaVu Sans"},
    "encoding": {
     "x": {"datum": 288.875, "type": "quantitative", "title": null, "axis": null},
     "y": {"datum": 0, "type": "quantitative", "title": null},
     "text": {"field": "t"}
    }
   }
  ]
 },
 {
  "width": 1152, "height": 79,
  "layer": [
   {
    "data": {"name": "bars"},
    "mark": {"type": "rule", "strokeWidth": 1, "color": "#2f4f4f"},
    "encoding": {
     "x": {"field": "i", "type": "quantitative", "title": null,
       "scale": {"domain": [-0.625, 287.375], "nice": false, "zero": false, "padding": 0},
       "axis": {"orient": "bottom", "values": [0,16,32,48,64,80,96,112,128,144,160,176,192,208,224,240,256,272], "tickCount": 40,
         "labelExpr": "['31 Dec 2018','23 Jan 2019','14 Feb 2019','8 Mar 2019','1 Apr 2019','23 Apr 2019','15 May 2019','6 Jun 2019','28 Jun 2019','22 Jul 2019','13 Aug 2019','4 Sep 2019','26 Sep 2019','18 Oct 2019','11 Nov 2019','3 Dec 2019','26 Dec 2019','20 Jan 2020'][round(datum.value/16)]",
         "labelAlign": "left", "labelDx": 3, "tickSize": 4, "labelPadding": 1, "labelFlush": false, "labelOverlap": false}},
     "y": {"field": "m", "type": "quantitative", "title": null,
       "scale": {"domain": [-1.3196, 0.5561], "nice": false, "zero": false, "padding": 0},
       "axis": {"orient": "right", "values": [-1.3196, 0, 0.5561], "tickCount": 3, "labelExpr": "datum.value == 0 ? '0.00' : format(datum.value, '.4f')", "labelFlush": true, "tickSize": 4, "labelPadding": 2}},
     "y2": {"datum": 0}
    }
   },
   {
    "data": {"name": "signal"},
    "mark": {"type": "line", "color": "#d9534f", "strokeWidth": 1, "strokeDash": [3, 3]},
    "encoding": {
     "x": {"field": "i", "type": "quantitative", "title": null},
     "y": {"field": "s", "type": "quantitative", "title": null}
    }
   },
   {
    "data": {"values": [{"t": "MACD(12,26,9) -0.0267 0.1326"}]},
    "mark": {"type": "text", "align": "left", "baseline": "middle", "dx": 6, "dy": 9, "fontSize": 10, "color": "#1c1c6c", "font": "DejaVu Sans Condensed, DejaVu Sans"},
    "encoding": {
     "x": {"datum": -0.625, "type": "quantitative", "title": null},
     "y": {"datum": 0.5561, "type": "quantitative", "title": null},
     "text": {"field": "t"}
    }
   }
  ]
 }
]
}
